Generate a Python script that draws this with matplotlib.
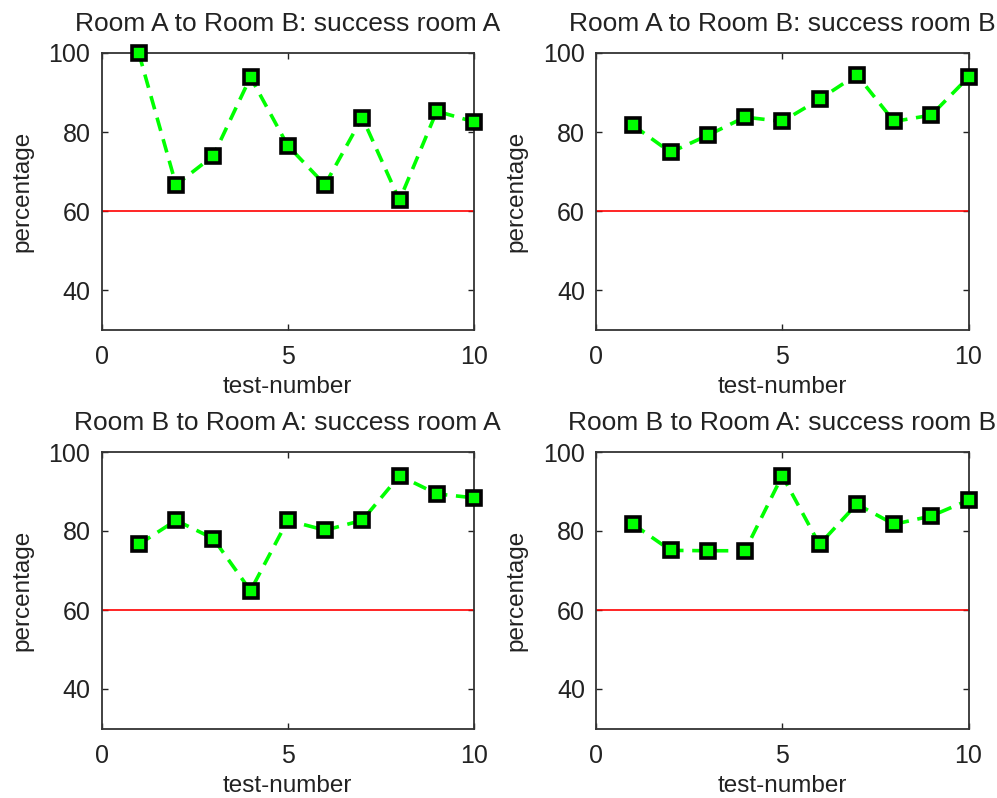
import matplotlib
matplotlib.use("Agg")
import matplotlib.pyplot as plt

plt.rcParams['font.family'] = ['Liberation Sans', 'DejaVu Sans']

tests = [1, 2, 3, 4, 5, 6, 7, 8, 9, 10]
ab_room_a = [100, 66.7, 74.0, 93.9, 76.6, 66.7, 83.7, 62.8, 85.3, 82.6]
ab_room_b = [81.7, 74.9, 79.2, 83.8, 82.7, 88.3, 94.5, 82.7, 84.3, 93.9]
ba_room_a = [76.6, 82.7, 78.1, 64.9, 82.7, 80.2, 82.7, 94.0, 89.4, 88.4]
ba_room_b = [81.7, 75.1, 75.0, 75.0, 94.0, 76.6, 86.8, 81.7, 83.8, 87.8]
threshold = 60
titles = ["Room A to Room B: success room A", "Room A to Room B: success room B",
          "Room B to Room A: success room A", "Room B to Room A: success room B"]
series = [ab_room_a, ab_room_b, ba_room_a, ba_room_b]
xticks = [0, 5, 10]
yticks = [40, 60, 80, 100]

W, H = 997, 798
fig = plt.figure(figsize=(W / 100, H / 100), dpi=100)

# axes boxes in pixels: left, top, right, bottom
boxes = [(101.5, 53, 474, 330), (596, 53, 968.5, 330),
         (101.5, 452, 474, 728.5), (596, 452, 968.5, 728.5)]

tc = '#222222'
for (l, t, r, b), title, vals in zip(boxes, titles, series):
    ax = fig.add_axes([l / W, 1 - b / H, (r - l) / W, (b - t) / H])
    ax.axhline(threshold, color='#ff0000', lw=1.2, zorder=2)
    ax.plot(tests, vals, color='#00ff00', lw=2.6, linestyle=(0, (3.8, 2.4)),
            marker='s', markersize=10.5, markerfacecolor='#00ff00',
            markeredgecolor='black', markeredgewidth=2.6, zorder=3, clip_on=False)
    ax.set_xlim(0, 10)
    ax.set_ylim(30, 100)
    ax.set_xticks(xticks)
    ax.set_yticks(yticks)
    ax.tick_params(direction='in', length=4, width=1, top=True, right=True,
                   labelsize=18, colors=tc)
    ax.tick_params(axis='x', pad=11)
    ax.tick_params(axis='y', pad=8)
    for s in ax.spines.values():
        s.set_color('#333333')
        s.set_linewidth(1.3)
    ax.set_title(title, fontsize=19, pad=16, color=tc)
    ax.set_xlabel('test-number', fontsize=17.5, labelpad=5, color=tc)
    ax.set_ylabel('percentage', fontsize=17.5, labelpad=11, color=tc)

fig.savefig('out.png', dpi=100, facecolor='white')
